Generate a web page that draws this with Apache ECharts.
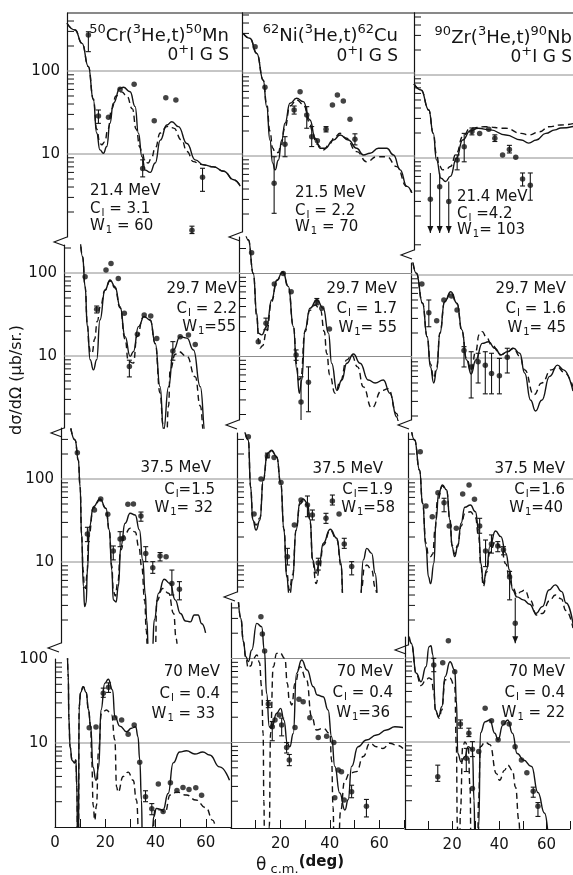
<!DOCTYPE html>
<html>
<head>
<meta charset="utf-8">
<script src="https://cdn.jsdelivr.net/npm/echarts@6/dist/echarts.min.js"></script>
<style>
html, body { margin: 0; padding: 0; background: #fff; }
#chart { width: 573px; height: 875px; }
</style>
</head>
<body>
<div id="chart"></div>
<script>
// angles in degrees (c.m.), cross sections in ub/sr
// points: [deg, value, errLow, errHigh, arrow]
var cr21_pts = [[8.5,272,171,297],[12.5,28.7,23.4,33.9],[16.5,27.7],[21.1,60.2],[26.7,69.1],[30.1,6.7,5.3,8.5],[34.7,25.2],[39.3,47.7],[43.3,44.7],[49.7,1.21,1.1,1.35],[53.9,5.24,3.55,6.73]];
var cr21_solid = [[0,376],[3.2,312],[6,215],[8.5,113],[10.5,44.7],[11.8,17.9],[13.1,11.2],[14.5,10.2],[15.8,12.3],[17.1,23.5],[18.4,40.8],[21.1,61.9],[22.4,63.6],[25.1,56.3],[27.1,37.2],[28.4,17.8],[29.8,9.3],[31.1,6.4],[33.1,6.0],[35.1,7.8],[37.1,14.7],[39.7,22.4],[41.7,24.5],[44.3,21.4],[47.7,13.4],[51,8.5],[54.3,7.4],[58.3,7.0],[62.3,6.2],[66.3,4.9],[68.9,4.1]];
var cr21_dash = [[0,376],[3.2,312],[6,215],[8.5,113],[10.5,46],[11.8,20],[13.1,13.5],[13.8,12.9],[15,14],[16.3,20],[17.8,35],[19.5,50],[21.7,56],[23.8,50],[26,35],[27.5,20],[29,12],[29.8,10.5],[31.1,8],[32.3,7.8],[33.6,9],[35.1,11.8],[37.1,17.9],[39.7,21.4],[40.6,21.6],[42.4,20.5],[45.6,14.7],[47.7,10.7],[50.3,8.1],[53,7.5],[58.3,7.0],[62.3,6.2],[66.3,4.9],[68.9,4.1]];

var ni21_pts = [[5.3,207],[9.3,67.2],[13.0,4.69,2.04,9.8],[17.4,13.9,9.8,17.1],[21.1,35.9,32,40],[23.5,59.5],[26.2,31.2,21.6,39.3],[28.2,17.1,13,22.6],[30.5,15.3],[34.0,21.0,19.5,22.6],[36.6,41.2],[38.6,54.3],[41.0,46.0],[43.7,27.7],[45.7,15.9,13.6,18.5]];
var ni21_solid = [[0.5,300],[3.2,262],[6,172],[8.6,82],[10,39],[11.3,15.6],[12.4,8.2],[13.4,6.8],[14.7,8.9],[16.1,15.6],[17.4,24.8],[19.4,43.2],[22.1,49.6],[24.8,45.2],[27.5,27.1],[29.6,16.4],[31.6,12.4],[33.6,12.4],[37,15.6],[39.7,17.9],[43,15.6],[46.4,12.4],[49.1,10.3],[51.8,10.8],[55.2,12.4],[58.6,12.4],[61.3,10.3],[64,6.8],[66.7,4.3],[68.7,3.6]];
var ni21_dash = [[0.5,300],[3.2,262],[6,172],[8.6,82],[10,42],[11.3,20],[12.4,12.5],[13.4,11],[14.7,11],[15.6,13],[17.4,22],[19.4,40],[22.1,47.3],[24.8,42],[27.5,25],[28.2,20.6],[30.2,14],[32.9,11.8],[35.5,14],[37.5,17],[39.7,18.8],[42,16.5],[46.4,11.3],[50.5,8.5],[54.5,9.8],[58.6,9.8],[62.6,7.45],[66.7,4.3],[68.7,3.6]];

var zr21_pts = [[7.2,3.18,1.25,6.6,1],[11.3,4.5,1.25,6.6,1],[15.3,3.0,1.25,5.2,1],[19.0,9.46,7.2,10.9],[22.1,13.7,9.0,19.8],[25.5,20.8,19,23],[28.9,19.8],[32.9,22.2],[35.6,17.3,15.8,19],[39,10.9],[42,12.7,11.5,14.2],[44.8,10.2],[47.8,5.6,4.6,6.6],[51.2,4.7,3.1,6.6]];
var zr21_solid = [[0,78],[3.1,66],[6.5,37.9],[8.5,19.8],[9.9,9.5],[11.9,5.7],[13.9,5.2],[16,6],[18.7,9.9],[21.4,16.5],[24.8,21.2],[28.2,22.8],[33.6,21.8],[40.4,18.9],[47.2,16.5],[50.5,15.1],[53.9,16.5],[58,19.8],[62.1,21.8],[64.6,23],[70,24]];
var zr21_dash = [[0,78],[3.1,66],[6.5,37.9],[8.5,19.8],[9.9,11],[11.2,8],[12.6,7.2],[14.2,7.3],[16,7.9],[18.7,11.4],[21.4,18.1],[24.8,22.8],[30.9,23.8],[40.4,22.8],[47.2,19.8],[50.5,18.9],[55.3,20.7],[59.3,23.8],[64.6,25],[70,26]];

var cr30_pts = [[8.4,90],[13,36.5,33,40],[16.7,108.7],[18.7,130],[21.6,86],[24,32.7],[26,7.45,5.6,8.9],[29.2,18.3],[31.9,31.2],[34.5,30.3],[36.9,16.3],[43.3,11.5,8.9,14.9],[46.2,17.1],[49.5,17.9],[52.2,13.8]];
var cr30_solid = [[6.4,274],[7.4,157],[8.4,68.4],[9.3,22.6],[10.4,9.0],[11.7,6.8],[13,9],[14.3,27.1],[16.3,62.4],[18.3,82.4],[20.3,68.4],[22.3,39.3],[24.3,17.1],[26.3,9.9],[27.6,11.3],[29.6,22.6],[31.9,29.8],[34.3,27.1],[36.3,14.2],[38.2,4.27],[39.6,1.28],[41.6,4.27],[43.5,11.8],[46.2,17.1],[48.9,16.4],[51.5,11.8],[54.2,4.27],[56.2,1.17],[57.5,0.5]];
var cr30_dash = [[6.4,274],[7.4,157],[8.4,68],[9.3,24],[10.0,13],[10.5,10.8],[11.2,11],[12.2,16],[13.2,26],[14.5,40],[16.3,62],[18.3,80],[20.3,66],[22.3,38],[24.3,16],[25.6,8.6],[27.6,8.2],[29,17.1],[31.6,29.8],[34.3,27],[36.3,14],[38.2,3.6],[39.4,1.5],[40.5,0.6],[41.6,2.5],[42.2,6.8],[44.3,10.5],[45.5,11.3],[48.9,9.9],[52.2,5.6],[54.2,2.5],[55.6,1.2],[56.5,0.6]];

var ni30_pts = [[5.1,178],[7.8,15.1],[10.9,25.1,21,29],[14.3,74.7],[17.9,100],[21.1,60.4],[23.1,10.4,9,12],[25.1,2.83,1.43,5.7],[28.1,4.9,2.16,7.5],[31.5,45.7,42,50],[33.5,38.1],[36.6,21.4]];
var ni30_solid = [[1.7,441],[3.8,253],[5.8,100],[7.2,33],[7.8,19.1],[9.2,18.2],[11.2,22.9],[13.2,48],[15.3,83.5],[17.7,105],[20,69.4],[22,22.9],[23.4,6.9],[24.4,3.6],[25.4,5.2],[26.7,20.9],[28.7,38.1],[31.5,48],[34.1,38.1],[36.2,19.1],[37.5,8.3],[39.6,3.9],[41.6,5.2],[43.6,8.3],[46.3,10.7],[49,8.3],[52.3,5.2],[55.1,4.8],[58.4,5.2],[61.1,3.6],[63.8,1.87],[65.2,1.2],[66.5,0.7]];
var ni30_dash = [[1.7,441],[3.8,253],[5.8,100],[7.2,30],[8.0,15],[8.5,12.6],[9.5,13.5],[11.2,20],[13.2,46],[15.3,82],[17.7,103],[20,68],[22,23],[23.4,8],[24,5.2],[25,5.5],[26.7,20],[28.7,36],[30.8,41.7],[33,36],[34.5,20],[35.5,10.9],[36.7,6],[38.9,3.6],[41,5],[43.6,9.1],[45.6,10.4],[48,7.5],[50.3,4.3],[53.7,2.4],[57.8,3.9],[60.4,4.1],[63.8,2.05],[65.2,1.3],[66.5,0.8]];

var zr30_pts = [[4.7,77.9],[7.7,35.2,23.8,50],[11.1,28.1],[14.2,50],[17.5,55.8],[19.9,37.9],[22.9,12.3,7.8,13.7],[26,7.8,3.3,11.9],[29,9.0,5.0,11.4],[32.1,8.2,3.7,11.9],[34.8,6.5,3.7,11.4],[38.2,6.1,3.7,9.9],[41.6,10.2,6.6,13.1]];
var zr30_solid = [[0.3,182],[2.3,105],[5,45.6],[7,18],[8.4,7.8],[9.8,5.0],[11.1,7.2],[12.5,19.9],[14.5,47.7],[17.2,62.9],[19.9,45.6],[22,21.8],[24,9.5],[26,6.4],[28,9.5],[30.8,15],[33.5,15.7],[36.2,13.1],[38.9,10.9],[41.6,11.9],[44.3,13.1],[47,11.4],[49.1,6.6],[51.7,3.1],[53.8,2.3],[56.5,3.1],[59.9,6.0],[63.3,8.2],[65.9,7.2],[70,4]];
var zr30_dash = [[0.3,182],[2.3,105],[5,45.6],[7,18],[8.4,8.5],[9.8,5.7],[11.1,7.8],[12.5,20],[14.5,47],[17.2,61],[19.9,45],[22,21],[24,9.8],[26,7.2],[28,12],[29.4,18.9],[30.8,20.8],[32.5,18],[34.8,14.4],[38.9,10.9],[41.6,11.9],[44.3,13.1],[47,10.5],[49.1,7.2],[53.1,3.6],[56.5,5.0],[60.6,7.2],[63.3,7.8],[65.9,6.8],[70,4.5]];

var cr37_pts = [[6.5,207],[10.5,21.7,17.6,26.2],[13.3,42.3],[15.8,57.4],[18.6,37.5],[20.8,13.6,10.6,15.6],[23.5,18.9,15.3,23.2],[24.8,19.3],[26.6,49.6],[28.8,50.0],[31.8,35.8,31,40],[33.7,12.7,10.1,15.3],[36.5,8.5,7.3,10.1],[39.4,11.8,10.3,13],[41.8,11.6],[44.1,5.5,4,8],[47.1,4.7,3.5,5.8]];
var cr37_solid = [[3.9,408],[5.6,295],[6.9,169],[7.6,80.8],[8.2,20.2],[8.9,5.1],[9.4,2.9],[10.0,3.2],[10.5,8.0],[11.3,26.6],[12.9,46.4],[15.5,57.4],[17.9,44.4],[19.2,24.3],[20.2,8.0],[20.8,3.5],[21.9,3.3],[22.8,5.1],[23.8,15.3],[25.5,29.3],[27.5,38.6],[29.5,36.8],[31.2,24.3],[32.5,10.6],[33.5,4.2],[34.1,2.0],[34.8,0.8],[36.3,0.8],[37.1,2.0],[38.8,4.2],[41,6.2],[43.4,5.5],[45.4,3.5],[47.5,2.4],[49.5,1.95],[51.5,1.9],[53,2.3],[54.5,2.3],[56,1.8],[57.5,1.4]];
var cr37_dash = [[3.9,408],[5.6,295],[6.9,169],[7.6,80],[8.2,22],[8.8,8],[9.3,5],[9.8,4.8],[10.3,7],[11,20],[12.9,45],[15.5,56],[17.9,44],[19.2,24],[20.2,9],[20.8,4.5],[21.6,3.9],[22.5,5.5],[23.8,14],[25.5,22],[27.5,25.5],[29.5,23],[31,15],[32.1,8.8],[33.3,3.4],[33.9,1.5],[34.5,0.7],[37.5,0.8],[38.1,3.4],[40.4,4.8],[42.8,4.2],[44.8,2.4],[45.8,1.2],[46.5,0.7]];

var ni37_pts = [[4.6,323],[6.9,37.9],[9.7,100],[12.3,191,180,205],[15,182],[17.8,91],[20.4,11.6,9.2,14.6],[23.2,27.9],[25.9,55.9],[28.5,48.6,35.1,62.4],[30.5,36.8,32.1,42.3],[32.9,9.7,8.0,11.1],[36,33.7,29.2,38.6],[38.6,54.3,48.6,64.1],[41.3,37.9],[43.4,16.5,14.6,19.3],[46.4,8.8,7.0,10.1]];
var ni37_solid = [[2.6,468],[4.6,295],[5.5,80.8],[6.4,32],[7.7,24.3],[9.3,32],[10.6,97],[12.3,204],[14,223],[16.1,185],[17.7,88.8],[19,24.3],[20.1,6.6],[21.2,3.8],[22.5,6.1],[23.9,24.3],[25.5,53.3],[26.8,57.4],[28.5,51],[29.6,32],[30.6,10.6],[32,7.3],[33.3,9.7],[34.9,16.8],[37.7,24.8],[40.4,19.3],[42.1,9.7],[43,3.2],[43.8,1],[49,1],[49.8,3.2],[51.1,10.6],[52.5,14.6],[54.5,12.7],[55.9,7.3],[57.2,3.2],[58,1]];
var ni37_dash = [[2.6,468],[4.6,295],[5.5,80],[6.4,33],[7.7,27.9],[9.3,34],[10.6,95],[12.3,200],[14,218],[16.1,182],[17.7,88],[19,25],[20.1,7.5],[21.2,4.6],[22.5,7],[23.9,24],[25.5,50],[26.8,54],[28.5,48],[29.6,30],[30.6,10],[32,5.5],[33.3,8],[34.9,16],[37.7,24],[40.4,18.5],[42.1,9],[43,3],[43.8,1],[49.5,1],[50.5,5],[51.5,8.5],[52.5,9.2],[54.5,8],[55.9,5],[57.5,1.5]];

var zr37_pts = [[5.2,213],[7.6,47.3],[10.3,35.1],[12.7,68.4],[15.3,51.8,40.3,58.6],[17.5,27.2],[20.5,25.5],[23.2,66],[25.9,84.7],[28.2,57],[30.4,27.2,22.2,33.6],[32.9,13.6,8.8,18.4],[35.4,16.5,12.8,21.2],[38.1,15.6,13.3,17.6],[40.5,14,12.2,15.3],[43.1,6.6,3.5,7.7],[45.5,1.83,1.05,3.7,1]];
var zr37_solid = [[0.8,515],[2.8,295],[4.9,128],[6.2,51],[7.6,15.3],[8.7,6.6],[9.6,5.5],[11,9.7],[11.9,32],[13,67.3],[14.6,84.7],[16.4,73.7],[17.8,32],[18.7,15.3],[19.8,11.6],[21.1,15.3],[22.5,29.3],[24.1,45.6],[26.5,48.6],[28.6,40.3],[30,24.3],[30.9,9.7],[32,5.5],[33.3,8],[34.7,15.3],[37.1,23.6],[39.4,20.2],[41.5,12.8],[43.1,8],[44.4,4.6],[46.2,3.8],[48.9,3.5],[51.6,3.1],[54.3,2.4],[57,2.9],[59.8,4.6],[62.5,5.3],[65.2,4.4],[67.1,3.2],[70,1.8]];
var zr37_dash = [[0.8,515],[2.8,295],[4.9,128],[6.2,51],[7.6,17],[8.7,12],[9.6,11.6],[10.5,12.5],[11.5,25],[12.5,55],[14.6,82],[16.4,72],[17.8,32],[18.7,16],[19.8,12.5],[21.1,16],[22.5,27],[24.1,38],[26.5,40.3],[28.6,34],[30,20],[30.9,9],[32,5.1],[33.3,7.5],[34.7,13],[37.1,17.6],[39.4,15],[41.5,9.5],[43.1,6],[44.4,5],[46.2,4],[48,4.4],[49.5,4.6],[52,3.4],[54.5,2.3],[57,2.4],[60,3.4],[62.5,4],[65,3.6],[67,2.6],[70,1.6]];

var cr70_pts = [[13.6,15.2],[16.3,15.5],[19.2,39,35,45],[21.3,46,40,52],[23.8,20],[26.5,18.8],[29.1,12.7],[31.5,16.4],[33.7,5.9],[36,2.29,2,2.7],[38.5,1.65,1.4,1.9],[41.1,3.24],[43,1.53],[45.9,3.37],[48.5,2.72],[50.9,2.96],[53.3,2.8],[56,2.94],[58.3,2.39]];
var cr70_solid = [[4.8,200],[5.3,60],[5.5,20],[6.0,9],[6.8,6.2],[7.8,5.8],[8.3,6.3],[8.7,3],[9.0,0.5],[9.3,0.5],[9.6,27],[10.2,40],[11.2,46.8],[12.4,40],[13.3,25],[14.2,15.6],[15.1,5.2],[16.3,3.6],[17.4,5.2],[18.3,24.7],[19.8,51.4],[21.2,57.3],[22.9,42.8],[23.8,20.6],[25.8,15.9],[28.5,13.6],[30.4,15],[32.1,15.6],[33,11.9],[33.7,6.3],[34.4,2.1],[34.8,0.5],[38.5,0.5],[38.8,1.0],[39.3,1.33],[40.3,1.66],[43,1.6],[45,2.5],[47,5.8],[49.6,7.8],[52.3,8.1],[55.6,7.4],[58.8,7.8],[61.5,7.2],[65.5,5.2],[69.4,3.6]];
var cr70_dash = [[4.8,200],[5.3,60],[5.5,20],[6.0,9],[6.8,6.2],[7.8,5.8],[8.3,6.3],[8.7,3],[9.0,0.5],[9.3,0.5],[9.6,27],[10.2,40],[11.2,46.8],[12.4,40],[13.3,25],[14.2,15.6],[14.6,6],[15.2,1.8],[15.8,1.2],[16.5,1.8],[17.3,8],[18.5,22.6],[20.5,24.7],[22.5,21.6],[23.8,10.9],[24.5,3.0],[25.1,2.6],[27.1,4.0],[29.1,4.5],[31.1,3.6],[32.4,2.1],[33.5,0.6],[38.6,0.6],[39.8,1.6],[41.8,1.6],[43.8,1.5],[45.8,2.4],[48.5,2.6],[52.3,2.4],[56,2.1],[60,1.7],[62.8,1.2],[64.5,0.7]];

var ni70_pts = [[12.1,314],[12.7,196],[13.6,123],[15.1,28.7,26,31.5],[16.7,15.4,10.5,17.8],[17.8,18.5],[19.5,21.2],[20.5,16.2,12,19.5],[22.5,8.7,7.5,10],[23.6,6.2,5.3,7.2],[25.9,15.1],[27.5,32.7],[29.2,30.6],[31.9,19.7],[35.3,11.5],[38.7,11.9],[41.6,10.0],[42,2.2],[43.4,4.7],[44.7,4.5],[45.8,2.07],[48.8,2.6,2.2,3.1],[54.8,1.74,1.3,2.1]];
var ni70_solid = [[3,480],[4,300],[5,160],[6,105],[7,92],[8.4,126],[10.4,262],[12.4,239],[13.5,126],[14.4,38.5],[15.5,15.4],[16.4,14.8],[18.5,22.3],[20.1,25.5],[21.4,18.5],[22.8,9.8],[23.8,8.9],[25.2,12.8],[26.5,66.6],[28.6,96],[30.8,73],[33.3,46.1],[34.9,36.8],[37.3,35.1],[39.3,24.4],[40.7,11.7],[42,5.2],[44,2.5],[46.1,1.57],[47.4,2.08],[48.8,5.2],[51.4,8.9],[54.8,10.7],[58.9,12.3],[62.9,14.1],[66.3,15.4],[69.6,15.1]];
var ni70_dash = [[3,480],[4,300],[5,160],[6,100],[7,77],[8,82],[9,100],[10.5,110],[11.5,90],[12.4,46],[13,12.8],[13.3,2],[13.6,0.5],[15.2,0.5],[15.5,1.0],[16,12.8],[17.1,80],[18.5,115],[19.8,117],[21.8,100],[22.8,50.6],[23.6,32],[24.6,28],[25.9,50.6],[27.9,80],[30.6,55.5],[32.6,20.3],[34.6,14.1],[37.3,14.8],[40,12.8],[40.7,6.2],[41.3,1.7],[41.7,0.6],[43.5,0.6],[44.3,1.5],[46,3.5],[48,4.3],[50.8,4.5],[53.5,6.8],[56.2,9.8],[58.9,8.9],[61.5,8.5],[64.2,9.8],[67,9.3],[69.6,8.5]];

var zr70_pts = [[12.2,82.5,68.7,99],[13.9,3.85,3.4,5.3],[16,88],[18.4,161],[21.1,68.7],[23.5,16.4,14.6,18.3],[26,6.4,4.45,8.4],[27.1,12.7,11.6,14.6],[28.6,8.2,6.7,10.1],[28.6,2.8],[31.3,7.7],[34,25.2],[36.7,17.9],[39.5,10.6],[41.8,17],[44.2,16.4],[46.7,8.8],[49.4,6.1],[51.7,4.3],[54.4,2.6,2.2,2.9],[56.4,1.72,1.3,1.9]];
var zr70_solid = [[0.5,400],[2.7,149],[4.8,65.7],[6.8,52.2],[8.9,78.8],[10.2,136],[11,140],[11.8,110],[12.9,24],[14.3,20],[15.6,26.3],[17,60],[19.1,90.3],[21.1,72],[21.8,31.6],[22.4,7.3],[23.8,5.8],[25.4,6.7],[26.8,8.8],[28.6,8.1],[29.3,2.0],[29.7,0.6],[31,0.6],[31.3,1.0],[32,12.8],[34,17.4],[36,18.3],[38.1,12.7],[39.5,10.6],[41.5,15.9],[43.6,18.3],[45.6,12.7],[47.6,7.3],[50.3,6.1],[53.7,5.1],[56.4,2.5],[59.2,1.42],[60.5,0.9]];
var zr70_dash = [[0.5,400],[2.7,149],[4.8,64],[6.8,47],[8.9,55],[10.2,58],[11.2,56],[12.2,40],[12.9,24],[14.5,19.2],[15.6,24],[17,55],[19.1,57.3],[21.1,45.5],[21.8,8.9],[22.2,1],[22.5,0.6],[23.2,0.6],[23.5,1.5],[24.5,8.8],[25.4,10],[26.8,8.8],[27.6,2.9],[28,0.6],[30.8,0.6],[31.2,2],[32,8.8],[34,10],[36,9.3],[38.8,4.2],[40.1,3.5],[42.2,4.6],[43.6,5.3],[45.6,4.6],[46.9,2.9],[48.3,1.18],[48.8,0.6]];

// panel texts
var reactions = ['{p|50}Cr({p|3}He,t){p|50}Mn', '{p|62}Ni({p|3}He,t){p|62}Cu', '{p|90}Zr({p|3}He,t){p|90}Nb'];
var energies = ['21.4 MeV','21.5 MeV','21.4 MeV','29.7 MeV','29.7 MeV','29.7 MeV','37.5 MeV','37.5 MeV','37.5 MeV','70 MeV','70 MeV','70 MeV'];
var cLabels = ['C{s|I} = 3.1','C{s|I} = 2.2','C{s|I} =4.2','C{s|I} = 2.2','C{s|I} = 1.7','C{s|I} = 1.6','C{s|I}=1.5','C{s|I}=1.9','C{s|I}=1.6','C{s|I} = 0.4','C{s|I} = 0.4','C{s|I} = 0.4'];
var wLabels = ['W{s|1} = 60','W{s|1} = 70','W{s|1}= 103','W{s|1}=55','W{s|1}= 55','W{s|1}= 45','W{s|1}= 32','W{s|1}=58','W{s|1}=40','W{s|1} = 33','W{s|1}=36','W{s|1} = 22'];
var xTickLabels = [0, 20, 40, 60];
var yTickLabels = [10, 100];

var panels = [
  [cr21_pts, cr21_solid, cr21_dash], [ni21_pts, ni21_solid, ni21_dash], [zr21_pts, zr21_solid, zr21_dash],
  [cr30_pts, cr30_solid, cr30_dash], [ni30_pts, ni30_solid, ni30_dash], [zr30_pts, zr30_solid, zr30_dash],
  [cr37_pts, cr37_solid, cr37_dash], [ni37_pts, ni37_solid, ni37_dash], [zr37_pts, zr37_solid, zr37_dash],
  [cr70_pts, cr70_solid, cr70_dash], [ni70_pts, ni70_solid, ni70_dash], [zr70_pts, zr70_solid, zr70_dash]
];

// layout (pixels) – the scanned page is slightly skewed, so each row sits a bit differently
var DEC = [83, 83, 83, 84];
var Y100 = [[71,73,75],[273,273.5,275],[479,479,479],[659,658.5,658]];
var LEFT = [[67,242,414],[64,239,411],[61,237,408],[55,231,405]];
var WIDTH = [176, 173, 172];
var TOP = [[13,13,13],[245,237,263],[428,433,433],[659,603,637]];
var BOTTOM = [[237,232,250],[428,420,420],[643,592,645],[827,828,829]];

var FONT = 'DejaVu Sans';
var INK = '#141414';

function renderErr(params, api) {
  var lo = api.value(2), hi = api.value(3);
  if (!(lo > 0) || !(hi > 0)) return null;
  var x = api.value(0);
  var a = api.coord([x, hi]), b = api.coord([x, lo]);
  var st = { stroke: INK, lineWidth: 1.1 };
  var kids = [{ type: 'line', shape: { x1: a[0], y1: a[1], x2: b[0], y2: b[1] }, style: st }];
  if (api.value(4) === 1) {
    kids.push({ type: 'polygon', shape: { points: [[b[0] - 3, b[1] - 7], [b[0] + 3, b[1] - 7], [b[0], b[1]]] }, style: { fill: INK } });
  } else {
    kids.push({ type: 'line', shape: { x1: a[0] - 2.5, y1: a[1], x2: a[0] + 2.5, y2: a[1] }, style: st });
    kids.push({ type: 'line', shape: { x1: b[0] - 2.5, y1: b[1], x2: b[0] + 2.5, y2: b[1] }, style: st });
  }
  return { type: 'group', children: kids };
}

function renderFrame(params, api) {
  var t = api.value(2), v = api.value(1);
  var p0 = api.coord([0, v]);
  if (t === 0) {
    return { type: 'line', shape: { x1: p0[0], y1: p0[1], x2: p0[0] + 7, y2: p0[1] }, style: { stroke: INK, lineWidth: 1 } };
  }
  var p1 = api.coord([70, v]);
  if (t === 1) {
    return { type: 'line', shape: { x1: p0[0], y1: p0[1], x2: p1[0], y2: p1[1] }, style: { stroke: '#8c8c8c', lineWidth: 1 } };
  }
  if (t === 2) {
    return { type: 'line', shape: { x1: p0[0], y1: p0[1], x2: p1[0], y2: p1[1] }, style: { stroke: INK, lineWidth: 1.2 } };
  }
  return { type: 'polyline', shape: { points: [[p0[0], p0[1]], [p0[0] - 13, p0[1] + 5], [p0[0] - 2, p0[1] + 9]] }, style: { stroke: INK, lineWidth: 1.1, fill: null } };
}

var option = { animation: false, backgroundColor: '#ffffff', grid: [], xAxis: [], yAxis: [], series: [], graphic: [] };

panels.forEach(function (p, i) {
  var r = Math.floor(i / 3), c = i % 3;
  var top = TOP[r][c], bottom = BOTTOM[r][c], y100 = Y100[r][c], dec = DEC[r];
  var ymax = Math.pow(10, 2 + (y100 - top) / dec);
  var ymin = Math.pow(10, 2 - (bottom - y100) / dec);
  option.grid.push({ left: LEFT[r][c], top: top, width: WIDTH[c], height: bottom - top });
  option.xAxis.push({
    type: 'value', gridIndex: i, min: 0, max: 70, interval: 10, show: r === 3,
    axisLine: { lineStyle: { color: INK, width: 1.2 } },
    axisTick: { inside: true, length: 8, lineStyle: { color: INK, width: 1 } },
    axisLabel: {
      margin: 9, fontSize: 15, fontFamily: FONT, color: INK,
      formatter: function (v) { return (xTickLabels.indexOf(v) >= 0 && !(c > 0 && v === 0)) ? String(v) : ''; }
    },
    splitLine: { show: false }
  });
  option.yAxis.push({
    type: 'log', logBase: 10, gridIndex: i, min: ymin, max: ymax,
    axisLine: { show: true, lineStyle: { color: INK, width: 1.2 } },
    axisTick: { show: false }, splitLine: { show: false },
    axisLabel: {
      show: c === 0, margin: 7, fontSize: 15, fontFamily: FONT, color: INK,
      formatter: function (v) {
        for (var k = 0; k < yTickLabels.length; k++) {
          if (Math.abs(v / yTickLabels[k] - 1) < 1e-3) return String(yTickLabels[k]);
        }
        return '';
      }
    }
  });

  // frame: minor ticks, reference lines, top border, axis break
  var frame = [];
  for (var e = Math.floor(Math.log10(ymin)); e <= Math.ceil(Math.log10(ymax)); e++) {
    for (var k = 2; k <= 9; k++) {
      var v = k * Math.pow(10, e);
      if (v > ymin * 1.03 && v < ymax * 0.97) frame.push([0, v, 0]);
    }
  }
  [10, 100].forEach(function (v) { if (v > ymin && v < ymax) frame.push([0, v, 1]); });
  if (r === 0) frame.push([0, ymax, 2]);
  if (r < 3) frame.push([0, ymin, 3]);

  var pts = p[0].map(function (d) { return [d[0], d[1], d[2] || 0, d[3] || 0, d[4] || 0]; });

  option.series.push(
    { type: 'custom', xAxisIndex: i, yAxisIndex: i, data: frame, renderItem: renderFrame, silent: true, encode: { x: 0, y: 1 } },
    { type: 'line', xAxisIndex: i, yAxisIndex: i, data: p[1], showSymbol: false, smooth: 0.5, smoothMonotone: 'x', clip: true, silent: true,
      lineStyle: { color: INK, width: 1.4 } },
    { type: 'line', xAxisIndex: i, yAxisIndex: i, data: p[2], showSymbol: false, smooth: 0.5, smoothMonotone: 'x', clip: true, silent: true,
      lineStyle: { color: INK, width: 1.4, type: [6, 4] } },
    { type: 'custom', xAxisIndex: i, yAxisIndex: i, data: pts, renderItem: renderErr, clip: true, silent: true, encode: { x: 0, y: 1 } },
    { type: 'scatter', xAxisIndex: i, yAxisIndex: i, data: pts, symbolSize: 5.5, clip: true, silent: true, itemStyle: { color: INK } }
  );
});

// texts
var SUP = { fontSize: 13, fontFamily: FONT, fill: INK, padding: [0, 0, 12, 0] };
var SUB = { fontSize: 10, fontFamily: FONT, fill: INK, padding: [9, 0, 0, 1] };
function txt(x, y, s, align, size, extra) {
  var el = {
    type: 'text', x: x, y: y, silent: true,
    style: { text: s, fontSize: size || 15, fontFamily: FONT, fill: INK, align: align || 'left', verticalAlign: 'middle', rich: { p: SUP, s: SUB } }
  };
  if (extra) for (var key in extra) el[key] = extra[key];
  return el;
}

var TITLE_RIGHT = [229, 398, 572];
var TITLE_Y = [[36, 56], [36, 57], [38, 58]];
reactions.forEach(function (s, c) {
  option.graphic.push(txt(TITLE_RIGHT[c], TITLE_Y[c][0], s, 'right', 18));
  option.graphic.push(txt(TITLE_RIGHT[c], TITLE_Y[c][1], '0{p|+}I G S', 'right', 17));
});

// [x, y, align] for energy, C_I and W_1 lines of every panel
var ANNOT = [
  [[90,191,'left'],[90,209,'left'],[90,226,'left']],
  [[295,193,'left'],[295,211,'left'],[295,227,'left']],
  [[457,197,'left'],[457,214,'left'],[457,230,'left']],
  [[237,289,'right'],[237,309,'right'],[236,327,'right']],
  [[397,289,'right'],[397,309,'right'],[397,328,'right']],
  [[566,289,'right'],[566,309,'right'],[566,328,'right']],
  [[211,468,'right'],[215,490,'right'],[213,508,'right']],
  [[383,469,'right'],[393,490,'right'],[395,508,'right']],
  [[565,469,'right'],[565,490,'right'],[563,508,'right']],
  [[220,672,'right'],[220,694,'right'],[215,714,'right']],
  [[393,672,'right'],[393,693,'right'],[390,713,'right']],
  [[565,672,'right'],[565,693,'right'],[565,713,'right']]
];
energies.forEach(function (en, i) {
  var a = ANNOT[i];
  option.graphic.push(txt(a[0][0], a[0][1], en, a[0][2]));
  option.graphic.push(txt(a[1][0], a[1][1], cLabels[i], a[1][2]));
  option.graphic.push(txt(a[2][0], a[2][1], wLabels[i], a[2][2]));
});

option.graphic.push(txt(17, 380, 'd\u03C3/d\u03A9 (\u03BCb/sr.)', 'center', 16, { rotation: Math.PI / 2 }));
option.graphic.push({
  type: 'text', x: 300, y: 866, silent: true,
  style: {
    text: '{t|\u03B8}{c| c.m.}{d|(deg)}', align: 'center', verticalAlign: 'middle',
    rich: {
      t: { fontSize: 17, fontFamily: FONT, fill: INK },
      c: { fontSize: 13, fontFamily: FONT, fill: INK, padding: [8, 0, 0, 0] },
      d: { fontSize: 15, fontFamily: FONT, fill: INK, fontWeight: 'bold', padding: [0, 0, 8, 0] }
    }
  }
});

var chart = echarts.init(document.getElementById('chart'), null, { renderer: 'canvas' });
chart.setOption(option);
</script>
</body>
</html>
